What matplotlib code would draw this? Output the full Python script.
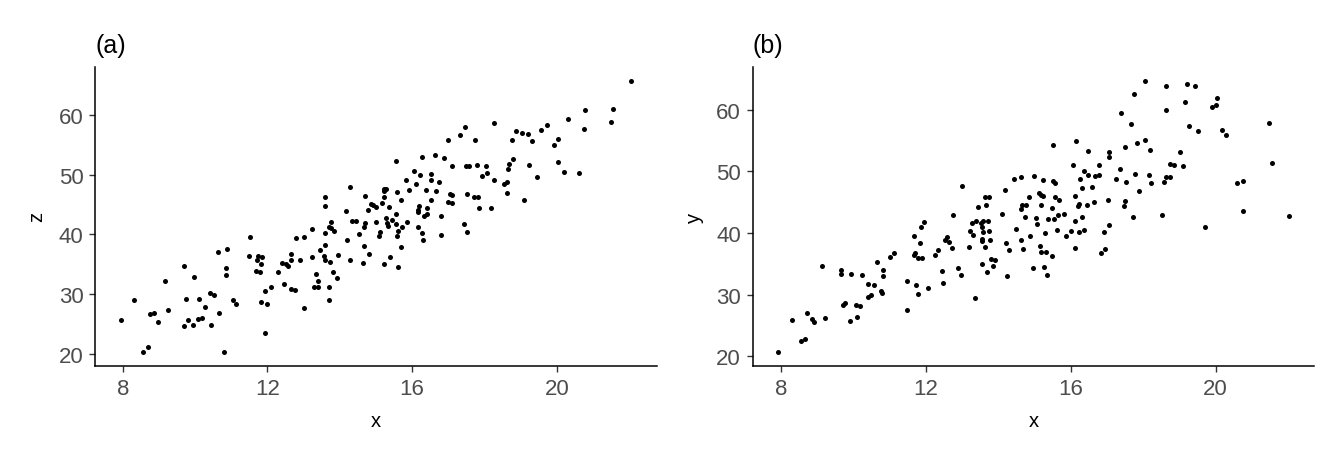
import matplotlib
matplotlib.use("Agg")
from matplotlib import pyplot as plt

# === panel (a): z against x ===
x_a = [
    11.53, 10.62, 10.87, 11.50, 9.68, 10.84, 10.84, 9.98, 9.18, 8.32,
    9.76, 10.12, 10.42, 10.53, 11.06, 11.14, 10.26, 9.26, 8.76, 8.87,
    10.67, 7.96, 8.96, 9.79, 10.09, 10.20, 9.70, 9.95, 10.45, 8.71,
    8.57, 10.81,
    14.27, 15.23, 15.29, 15.21, 14.71, 13.60, 15.21, 14.87, 14.93, 15.01,
    15.18, 13.60, 15.37, 14.79, 14.16, 15.29, 14.35, 14.46, 13.77, 15.01,
    14.71, 15.30, 15.32, 14.68, 13.69, 13.77, 13.85, 13.24, 13.60, 14.52,
    15.12, 15.07, 12.80, 13.02, 14.21, 13.60, 14.68, 13.46, 12.64, 14.82,
    13.96, 13.24, 13.55, 11.74, 11.86, 11.72, 12.66, 12.91, 13.58, 14.29,
    13.74, 12.39, 12.52, 12.58, 11.83, 14.65, 15.21, 15.40, 11.69, 11.78,
    12.30, 13.33, 13.82, 13.41, 13.91, 12.47, 12.11, 12.64, 12.77, 13.30,
    13.41, 13.69, 11.92, 11.81, 12.00, 13.71, 13.02, 11.94,
    18.27, 17.45, 17.31, 16.98, 17.75, 18.88, 19.05, 19.21, 18.77, 15.54,
    16.28, 16.64, 16.89, 17.11, 17.50, 17.58, 17.80, 18.05, 18.80, 18.69,
    18.66, 19.24, 16.06, 16.23, 16.53, 17.92, 18.08, 15.84, 16.51, 16.73,
    16.12, 18.25, 18.55, 18.63, 15.57, 15.90, 16.37, 16.67, 17.06, 17.09,
    17.53, 17.72, 17.83, 18.63, 19.10, 15.68, 16.51, 17.00, 17.09, 16.20,
    16.15, 16.15, 16.42, 17.86, 18.19, 15.54, 16.34, 16.42, 16.81, 15.43,
    15.54, 15.87, 17.42, 16.17, 15.73, 15.62, 15.59, 16.28, 17.53, 16.81,
    16.31, 15.68, 15.62,
    22.06, 20.79, 21.56, 20.32, 21.51, 20.76, 19.74, 19.55, 19.32, 20.04,
    19.93, 20.04, 19.44, 20.21, 20.62,
]
z_a = [
    39.49, 36.98, 37.48, 36.31, 34.64, 34.30, 33.13, 32.80, 32.13, 28.95,
    29.12, 29.12, 30.12, 29.79, 28.95, 28.28, 27.78, 27.28, 26.61, 26.78,
    26.78, 25.61, 25.27, 25.61, 25.77, 25.94, 24.60, 24.77, 24.77, 21.09,
    20.26, 20.26,
    47.85, 47.51, 47.51, 47.18, 46.34, 46.18, 46.18, 45.01, 44.84, 44.50,
    45.17, 44.67, 44.50, 44.00, 43.84, 42.66, 42.16, 42.16, 42.00, 42.00,
    41.83, 41.89, 41.33, 41.16, 41.16, 40.99, 40.49, 40.83, 40.16, 39.99,
    40.32, 39.65, 39.32, 39.49, 38.99, 38.15, 37.98, 37.31, 36.64, 36.64,
    36.48, 36.14, 36.31, 36.31, 36.14, 35.64, 35.64, 35.64, 35.64, 35.64,
    35.31, 35.14, 34.97, 34.64, 34.97, 35.14, 34.97, 36.14, 33.80, 33.63,
    33.63, 33.30, 33.63, 32.13, 32.63, 31.63, 31.13, 30.79, 30.62, 31.13,
    31.13, 31.13, 30.46, 28.62, 28.28, 28.95, 27.61, 23.43,
    58.55, 57.88, 56.54, 55.71, 55.71, 57.21, 56.88, 56.71, 55.71, 52.20,
    52.87, 53.20, 52.70, 51.36, 51.36, 51.36, 51.53, 51.36, 52.53, 51.69,
    50.86, 51.53, 50.52, 49.86, 50.02, 49.69, 50.19, 49.02, 49.02, 48.68,
    48.35, 49.02, 48.35, 48.68, 47.01, 47.35, 47.35, 47.18, 46.68, 46.51,
    46.68, 46.18, 46.18, 46.85, 45.67, 45.67, 45.67, 45.34, 45.17, 44.67,
    44.00, 43.67, 44.34, 44.34, 44.34, 43.33, 43.00, 43.33, 43.00, 42.33,
    41.66, 42.00, 41.66, 41.16, 41.16, 40.49, 39.65, 40.16, 40.32, 39.82,
    38.99, 37.82, 34.47,
    65.57, 60.72, 60.89, 59.22, 58.72, 57.55, 58.22, 57.38, 55.54, 55.88,
    54.87, 52.03, 49.52, 50.36, 50.19,
]

# === panel (b): y against x ===
x_b = [
    11.13, 11.02, 10.66, 9.14, 9.67, 9.67, 9.94, 10.25, 10.83, 10.83,
    11.49, 10.41, 10.58, 10.77, 10.80, 10.41, 10.50, 9.72, 9.78, 10.08,
    10.19, 8.73, 8.87, 8.92, 9.22, 8.31, 9.92, 10.11, 11.49, 8.67,
    8.56, 7.93,
    13.01, 14.19, 14.44, 14.64, 15.00, 15.24, 13.64, 13.75, 14.86, 15.13,
    15.19, 15.24, 13.45, 13.67, 14.66, 14.77, 14.64, 15.19, 12.76, 14.11,
    14.75, 15.05, 15.08, 15.38, 11.96, 11.87, 13.28, 13.39, 13.53, 13.59,
    13.72, 13.56, 13.59, 13.23, 13.31, 13.75, 14.50, 15.30, 11.68, 14.88,
    12.59, 12.54, 12.65, 11.85, 13.56, 13.56, 13.78, 14.22, 14.64, 13.20,
    13.64, 12.73, 15.16, 12.34, 14.30, 14.69, 15.19, 15.33, 11.71, 11.68,
    11.79, 11.90, 12.26, 13.81, 13.92, 13.56, 13.86, 12.45, 12.90, 13.70,
    14.97, 15.27, 12.98, 14.25, 15.35, 11.73, 12.48, 12.07, 11.79, 13.36,
    18.06, 18.62, 19.20, 17.76, 19.17, 18.64, 17.40, 17.68, 19.28, 16.16,
    15.52, 18.04, 17.84, 17.51, 16.49, 17.07, 17.07, 18.20, 19.03, 16.07,
    16.77, 18.75, 18.86, 19.09, 16.38, 17.37, 16.27, 16.49, 16.68, 16.77,
    17.79, 18.15, 18.64, 18.75, 15.52, 15.58, 17.26, 17.54, 18.23, 18.59,
    16.60, 16.30, 17.90, 15.58, 15.69, 16.13, 17.04, 17.51, 17.48, 16.65,
    16.46, 16.19, 16.24, 15.49, 17.73, 18.53, 15.66, 15.83, 15.55, 16.32,
    16.13, 17.07, 15.63, 16.02, 16.24, 16.38, 16.93, 15.88, 16.13, 16.85,
    16.96, 15.49,
    19.42, 20.03, 19.89, 20.00, 19.53, 20.17, 20.30, 21.49, 21.55, 20.58,
    20.77, 20.75, 22.04, 19.70,
]
y_b = [
    36.71, 36.06, 35.25, 34.60, 33.95, 33.30, 33.30, 33.14, 33.95, 32.98,
    32.17, 31.68, 31.52, 30.55, 30.22, 29.57, 29.90, 28.28, 28.60, 28.28,
    28.11, 26.98, 26.01, 25.52, 26.17, 25.84, 25.68, 26.33, 27.46, 22.76,
    22.44, 20.65,
    47.57, 46.92, 48.71, 49.03, 49.19, 48.55, 45.79, 45.79, 45.79, 46.44,
    46.11, 45.95, 44.17, 44.49, 44.49, 44.49, 43.84, 44.49, 42.87, 43.03,
    42.55, 42.38, 41.41, 42.22, 41.74, 40.92, 41.57, 41.90, 41.57, 41.90,
    41.90, 40.92, 40.11, 40.28, 39.63, 40.28, 40.60, 39.95, 39.46, 39.46,
    39.30, 38.82, 38.49, 38.33, 38.98, 38.65, 38.82, 38.33, 38.82, 37.68,
    37.68, 37.52, 37.84, 37.19, 37.19, 37.36, 36.87, 36.87, 36.71, 36.38,
    35.90, 35.90, 36.38, 35.74, 35.57, 34.92, 34.60, 33.79, 34.28, 33.63,
    34.28, 34.44, 33.14, 32.98, 33.14, 31.52, 31.84, 31.03, 30.06, 29.41,
    64.60, 63.79, 64.11, 62.49, 61.19, 59.90, 59.41, 57.63, 57.30, 54.87,
    54.22, 55.03, 54.55, 53.90, 53.25, 53.09, 52.28, 53.41, 53.09, 50.98,
    50.98, 51.14, 50.98, 50.82, 50.01, 50.33, 48.71, 49.36, 49.19, 49.36,
    49.52, 49.36, 49.03, 49.03, 48.38, 48.06, 48.71, 48.22, 48.06, 48.22,
    47.41, 47.25, 46.76, 45.79, 45.30, 45.95, 45.30, 45.14, 44.33, 44.98,
    44.49, 44.33, 44.65, 44.01, 42.55, 42.87, 42.87, 43.03, 42.22, 42.55,
    41.90, 41.25, 40.44, 40.28, 40.11, 40.44, 40.11, 39.46, 37.52, 36.71,
    37.36, 36.22,
    63.79, 61.84, 60.38, 60.71, 56.49, 56.65, 55.84, 57.79, 51.30, 48.06,
    48.38, 43.52, 42.71, 40.92,
]

xticks = [8, 12, 16, 20]
yticks = [20, 30, 40, 50, 60]

plt.rcParams['font.family'] = ['Liberation Sans', 'DejaVu Sans']

fig = plt.figure(figsize=(13.44, 4.6), dpi=100)
ax_a = fig.add_axes([0.0709, 0.2028, 0.4177, 0.6493])
ax_b = fig.add_axes([0.5600, 0.2028, 0.4177, 0.6487])

panels = [
    (ax_a, x_a, z_a, 'z', '(a)', (7.24, 22.76), (18.03, 67.98)),
    (ax_b, x_b, y_b, 'y', '(b)', (7.22, 22.72), (18.47, 66.88)),
]
for ax, xs, ys, ylab, title, xlim, ylim in panels:
    ax.scatter(xs, ys, s=13, color='black', linewidths=0)
    ax.set_xlim(*xlim)
    ax.set_ylim(*ylim)
    ax.set_xticks(xticks)
    ax.set_yticks(yticks)
    for side in ['top', 'right']:
        ax.spines[side].set_visible(False)
    for side in ['left', 'bottom']:
        ax.spines[side].set_linewidth(1.1)
        ax.spines[side].set_color('black')
    ax.tick_params(length=4.5, width=1.0, color='#333333', labelcolor='#4D4D4D',
                   labelsize=16, pad=4)
    ax.set_xlabel('x', fontsize=14.5, labelpad=9)
    ax.set_ylabel(ylab, fontsize=14.5, labelpad=9)
    ax.set_title(title, loc='left', fontsize=18, pad=11)

plt.savefig('out.png', dpi=100)
plt.close()
